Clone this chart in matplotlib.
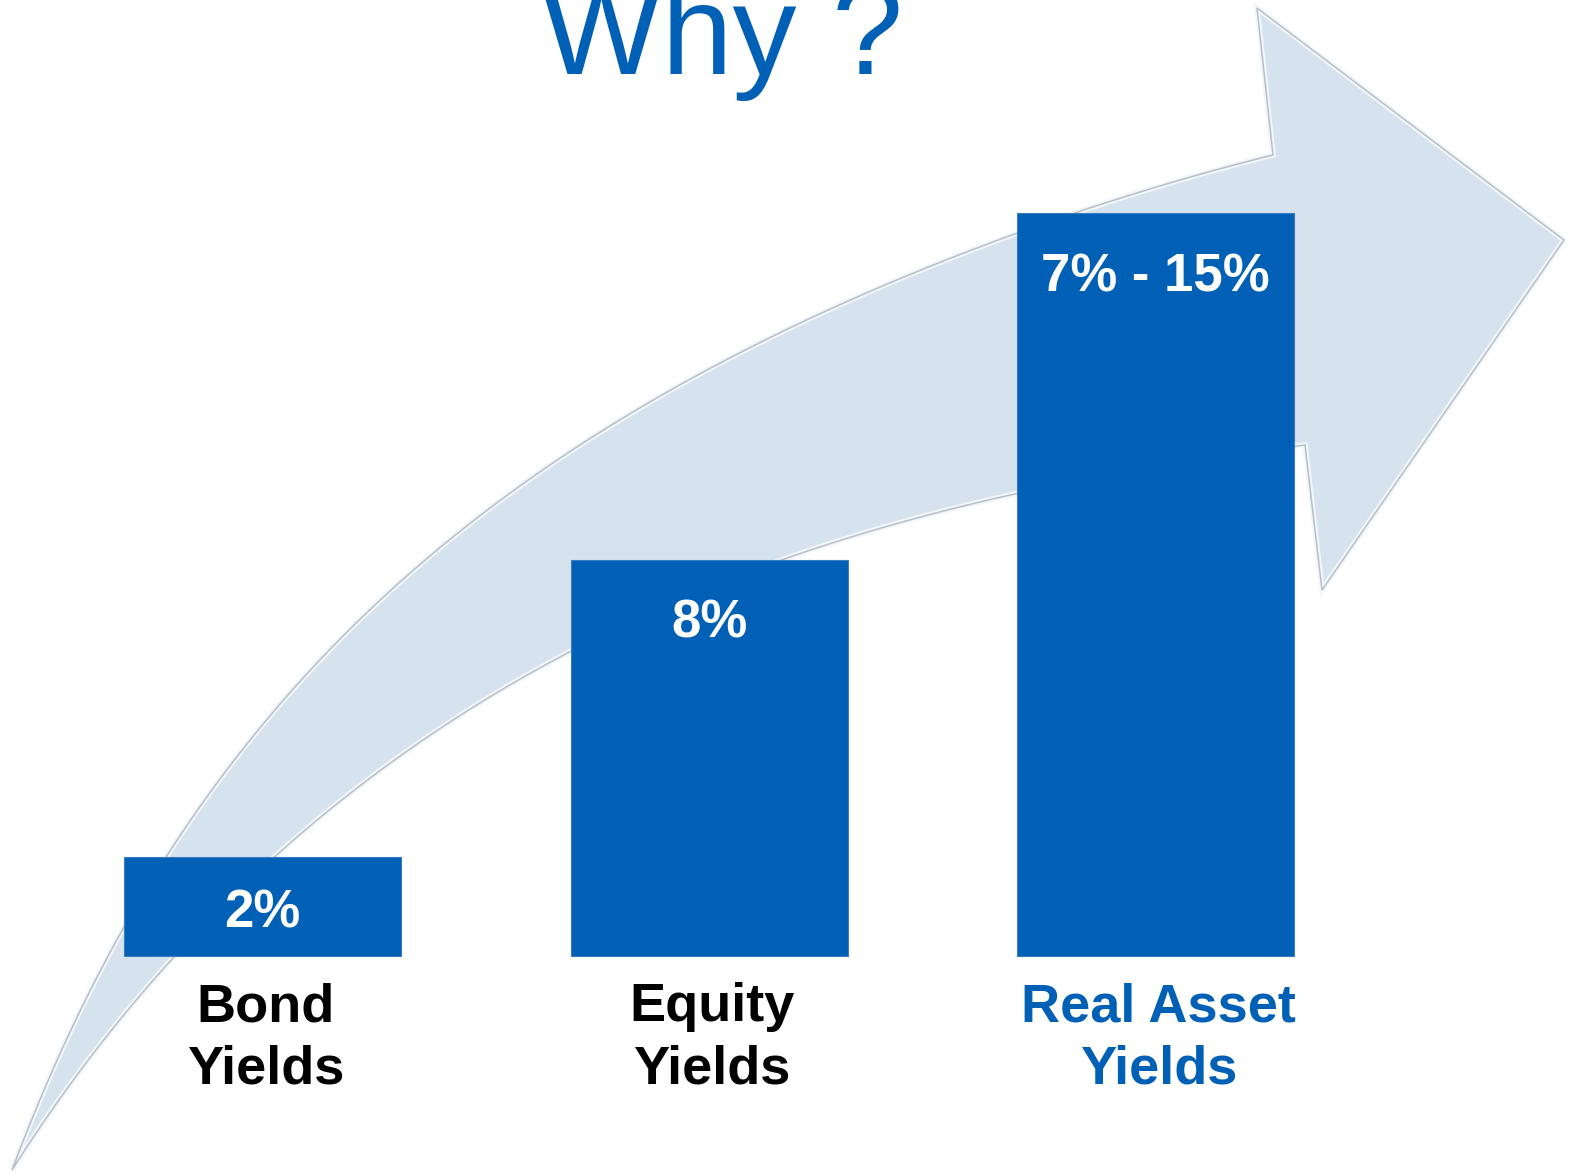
import numpy as np
import matplotlib
matplotlib.use("Agg")
import matplotlib.pyplot as plt
from matplotlib.patches import Polygon

# ---- data ----
categories = ["Bond\nYields", "Equity\nYields", "Real Asset\nYields"]
values = [2, 8, 15]
value_labels = ["2%", "8%", "7% - 15%"]
title = "Why ?"

BLUE = "#0060B6"
ARROW_FILL = "#D6E3EF"
ARROW_EDGE = "#B8BEC6"
label_colors = ["black", "black", BLUE]

W, H = 1569, 1173
YMIN, YMAX = -4.384, 19.313
fig = plt.figure(figsize=(W / 100, H / 100), dpi=100)
fig.patch.set_facecolor("white")
ax = fig.add_axes([0, 0, 1, 1])
ax.set_xlim(-0.5879, 2.926)
ax.set_ylim(YMIN, YMAX)
ax.axis("off")

# ---- decorative background arrow (figure-pixel outline) ----
def smooth(pts, deg=5, n=200):
    pts = np.asarray(pts, float)
    d = np.r_[0, np.cumsum(np.hypot(*np.diff(pts, axis=0).T))]
    t = d / d[-1]
    w = np.ones(len(t)); w[0] = w[-1] = 50
    px = np.polyfit(t, pts[:, 0], deg, w=w)
    py = np.polyfit(t, pts[:, 1], deg, w=w)
    tt = np.linspace(0, 1, n)
    out = np.column_stack([np.polyval(px, tt), np.polyval(py, tt)])
    out[0], out[-1] = pts[0], pts[-1]
    return out

outer = [(12, 1170), (30, 1117), (57, 1050), (110, 960), (163, 858), (200, 810),
         (267, 723), (333, 650), (400, 583), (467, 517), (550, 460), (650, 403),
         (750, 353), (850, 303), (950, 260), (1017, 229), (1110, 200), (1273, 155)]
head = [(1257, 8), (1564, 240), (1322, 590), (1305, 445)]
inner = [(1305, 445), (1017, 493), (883, 527), (783, 560), (570, 653),
         (467, 713), (367, 777), (273, 858), (173, 957), (133, 1000), (77, 1083),
         (40, 1133), (12, 1170)]
poly = np.vstack([smooth(outer), np.array(head), smooth(inner, deg=4)[1:]])
poly_fig = np.column_stack([poly[:, 0] / W, 1 - poly[:, 1] / H])
ax.add_patch(Polygon(poly_fig, closed=True, transform=fig.transFigure,
                     facecolor=ARROW_FILL, edgecolor="#F2F7FC", linewidth=4,
                     joinstyle="miter", zorder=1))
ax.add_patch(Polygon(poly_fig, closed=True, transform=fig.transFigure,
                     facecolor="none", edgecolor=ARROW_EDGE, linewidth=1.1,
                     joinstyle="miter", zorder=1.1))

# ---- bars ----
x = np.arange(len(categories))
ax.bar(x, values, width=0.6204, color=BLUE, edgecolor="#3A7CC4",
       linewidth=0.8, zorder=3)

# value label baseline ~78px below bar top; short bars get it centred
ppu = H / (YMAX - YMIN)
for xi, v, lab in zip(x, values, value_labels):
    y = v - 78 / ppu if v * ppu > 160 else v / 2 - 21 / ppu
    ax.text(xi, y, lab, ha="center", va="baseline",
            color="white", fontsize=38, fontweight="bold",
            family="Liberation Sans", zorder=4)

for xi, lab, c in zip(x, categories, label_colors):
    ax.annotate(lab, xy=(xi, 0), xytext=(2, -19), textcoords="offset points",
                ha="center", va="top", color=c, fontsize=39, fontweight="bold",
                family="Liberation Sans", linespacing=1.32, zorder=4)

fig.text(722 / W, 1 - 74 / H, title, ha="center", va="baseline", color=BLUE,
         fontsize=92, family="Liberation Sans")

fig.savefig("out.png", dpi=100, facecolor="white")
